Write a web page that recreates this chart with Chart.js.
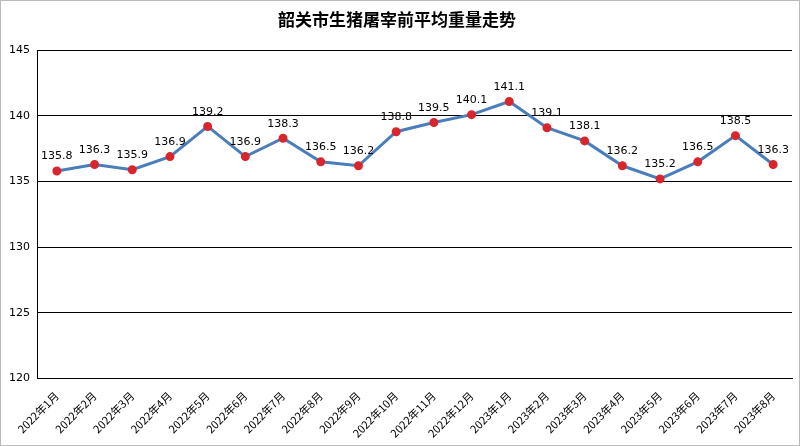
<!DOCTYPE html>
<html><head><meta charset="utf-8">
<script src="https://cdn.jsdelivr.net/npm/chart.js@4"></script>
<style>
html,body{margin:0;padding:0;background:#fff}
#wrap{position:absolute;left:0;top:0;width:798px;height:444px;border:1px solid #bbb}
</style></head><body>
<div id="wrap"><canvas id="c"></canvas></div>
<script>
const labels = ["2022年1月","2022年2月","2022年3月","2022年4月","2022年5月","2022年6月","2022年7月","2022年8月","2022年9月","2022年10月","2022年11月","2022年12月","2023年1月","2023年2月","2023年3月","2023年4月","2023年5月","2023年6月","2023年7月","2023年8月"];
const weights = [135.8,136.3,135.9,136.9,139.2,136.9,138.3,136.5,136.2,138.8,139.5,140.1,141.1,139.1,138.1,136.2,135.2,136.5,138.5,136.3];

// 점 위에 값 표시
const valueLabels = {
	id: 'valueLabels',
	afterDatasetsDraw(chart) {
		const ctx = chart.ctx;
		const meta = chart.getDatasetMeta(0);
		ctx.save();
		ctx.font = '11px "DejaVu Sans", sans-serif';
		ctx.fillStyle = '#000';
		ctx.textAlign = 'center';
		ctx.textBaseline = 'bottom';
		meta.data.forEach((p, i) => {
			ctx.fillText(weights[i].toFixed(1), p.x, p.y - 9);
		});
		ctx.restore();
	}
};

new Chart(document.getElementById('c'), {
	type: 'line',
	data: {
		labels: labels,
		datasets: [{
			data: weights,
			borderColor: '#4a7ebb',
			borderWidth: 3,
			pointBackgroundColor: '#d9262c',
			pointBorderColor: '#d9262c',
			pointRadius: 3,
			tension: 0
		}]
	},
	options: {
		responsive: true,
		maintainAspectRatio: false,
		animation: false,
		layout: { padding: { left: 0, right: 6, top: 4, bottom: 2 } },
		plugins: {
			legend: { display: false },
			tooltip: { enabled: false },
			title: {
				display: true,
				text: '韶关市生猪屠宰前平均重量走势',
				color: '#000',
				font: { family: '"Noto Sans CJK SC"', size: 17, weight: 'bold' },
				padding: { top: 4, bottom: 21 }
			}
		},
		scales: {
			x: {
				offset: true,
				grid: { display: false },
				border: { color: '#000' },
				ticks: { color: '#000', maxRotation: 45, minRotation: 45, font: { family: '"Noto Sans CJK SC"', size: 11 } }
			},
			y: {
				min: 120, max: 145,
				ticks: { stepSize: 5, color: '#000', padding: 8, font: { family: '"DejaVu Sans"', size: 11 } },
				grid: { color: '#000', drawTicks: false },
				border: { color: '#000' }
			}
		}
	},
	plugins: [valueLabels]
});
</script>
</body></html>
